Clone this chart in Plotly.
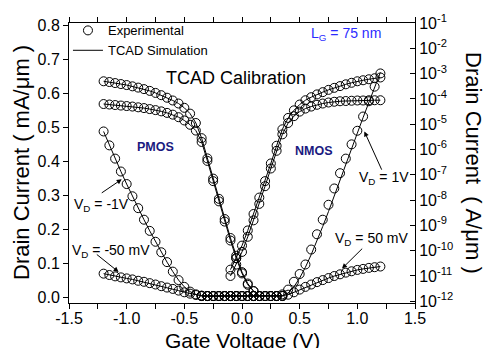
import plotly.graph_objects as go

# ---------------- data ----------------
# gate voltage grids (V)
vg_pmos_lin = [-1.20, -1.15, -1.10, -1.05, -1.00, -0.95, -0.90, -0.85, -0.80, -0.75,
               -0.70, -0.65, -0.60, -0.55, -0.50, -0.45, -0.40, -0.35, -0.30, -0.25,
               -0.20, -0.15, -0.10, -0.05, 0.00, 0.05, 0.10, 0.15, 0.20, 0.25, 0.30, 0.35]
vg_nmos_lin = [-0.35, -0.30, -0.25, -0.20, -0.15, -0.10, -0.05, 0.00, 0.05, 0.10,
               0.15, 0.20, 0.25, 0.30, 0.35, 0.40, 0.45, 0.50, 0.55, 0.60, 0.65, 0.70,
               0.75, 0.80, 0.85, 0.90, 0.95, 1.00, 1.05, 1.10, 1.15, 1.20]
vg_pmos_log = [-1.20, -1.15, -1.10, -1.05, -1.00, -0.95, -0.90, -0.85, -0.80, -0.75,
               -0.70, -0.65, -0.60, -0.55, -0.50, -0.45, -0.40, -0.35, -0.30, -0.25,
               -0.20, -0.15, -0.10, -0.05, 0.00, 0.05, 0.10]
vg_nmos_log = [-0.10, -0.05, 0.00, 0.05, 0.10, 0.15, 0.20, 0.25, 0.30, 0.35, 0.40,
               0.45, 0.50, 0.55, 0.60, 0.65, 0.70, 0.75, 0.80, 0.85, 0.90, 0.95,
               1.00, 1.05, 1.10, 1.15, 1.20]

# linear-scale drain current (mA/um)
pmos_lin_vd1 = [0.488, 0.447, 0.408, 0.370, 0.333, 0.297, 0.262, 0.228, 0.195, 0.163,
                0.132, 0.103, 0.075, 0.050, 0.030, 0.016, 0.008, 0.004, 0.003, 0.003,
                0.003, 0.003, 0.003, 0.003, 0.003, 0.003, 0.003, 0.003, 0.003, 0.003,
                0.003, 0.003]
pmos_lin_vd50 = [0.069, 0.065, 0.061, 0.058, 0.055, 0.052, 0.048, 0.045, 0.041, 0.037,
                 0.032, 0.028, 0.024, 0.019, 0.014, 0.010, 0.006, 0.004, 0.003, 0.003,
                 0.003, 0.003, 0.003, 0.003, 0.003, 0.003, 0.003, 0.003, 0.003, 0.003,
                 0.003, 0.003]
nmos_lin_vd50 = [0.003, 0.003, 0.003, 0.003, 0.003, 0.003, 0.003, 0.003, 0.003, 0.003,
                 0.003, 0.003, 0.003, 0.003, 0.004, 0.007, 0.014, 0.022, 0.030, 0.037,
                 0.044, 0.050, 0.056, 0.062, 0.067, 0.072, 0.076, 0.080, 0.083, 0.086,
                 0.088, 0.090]
nmos_lin_vd1 = [0.003, 0.003, 0.003, 0.003, 0.003, 0.003, 0.003, 0.003, 0.003, 0.003,
                0.003, 0.003, 0.003, 0.003, 0.008, 0.022, 0.045, 0.068, 0.096, 0.140,
                0.185, 0.228, 0.272, 0.320, 0.365, 0.408, 0.450, 0.490, 0.532, 0.577,
                0.620, 0.659]
nmos_lin_vd1_sim = [0.003, 0.003, 0.003, 0.003, 0.003, 0.003, 0.003, 0.003, 0.003, 0.003,
                    0.003, 0.003, 0.003, 0.003, 0.004, 0.012, 0.030, 0.056, 0.088, 0.125,
                    0.165, 0.208, 0.252, 0.297, 0.343, 0.390, 0.437, 0.483, 0.529, 0.574,
                    0.618, 0.662]

# log-scale drain current, log10(A/um)
pmos_log_vd1 = [-3.30, -3.33, -3.37, -3.41, -3.45, -3.50, -3.55, -3.61, -3.68, -3.76,
                -3.85, -3.95, -4.06, -4.18, -4.35, -4.58, -4.95, -5.55, -6.35, -7.15,
                -7.95, -8.75, -9.50, -10.20, -10.85, -11.30, -11.60]
pmos_log_vd50 = [-4.20, -4.22, -4.24, -4.26, -4.28, -4.30, -4.33, -4.36, -4.40, -4.44,
                 -4.49, -4.55, -4.62, -4.72, -4.85, -5.02, -5.25, -5.70, -6.45, -7.25,
                 -8.05, -8.85, -9.60, -10.30, -10.90, -11.35, -11.60]
nmos_log_vd1 = [-10.75, -10.30, -9.80, -9.20, -8.55, -7.90, -7.25, -6.55, -5.85, -5.20,
                -4.75, -4.45, -4.22, -4.05, -3.93, -3.82, -3.73, -3.64, -3.56, -3.49,
                -3.42, -3.36, -3.30, -3.26, -3.22, -3.18, -3.15]
nmos_log_vd50 = [-11.00, -10.55, -10.05, -9.45, -8.80, -8.15, -7.45, -6.75, -6.05, -5.40,
                 -4.95, -4.68, -4.50, -4.38, -4.30, -4.23, -4.18, -4.14, -4.11, -4.09,
                 -4.08, -4.07, -4.06, -4.06, -4.05, -4.05, -4.05]

# tick labels
x_ticks = [-1.5, -1.0, -0.5, 0.0, 0.5, 1.0, 1.5]
x_ticktext = ["-1.5", "-1.0", "-0.5", "0.0", "0.5", "1.0", "1.5"]
y_ticks = [0.0, 0.1, 0.2, 0.3, 0.4, 0.5, 0.6, 0.7, 0.8]
y_ticktext = ["0.0", "0.1", "0.2", "0.3", "0.4", "0.5", "0.6", "0.7", "0.8"]
log_exps = [-12, -11, -10, -9, -8, -7, -6, -5, -4, -3, -2, -1]

# ---------------- figure ----------------
FONT = "Liberation Sans, Arial, sans-serif"
fig = go.Figure()

state = {"exp": True, "sim": True}


def add_curve(x, y_exp, y_sim, axis):
    fig.add_trace(go.Scatter(
        x=x, y=y_sim, mode="lines", yaxis=axis,
        line=dict(color="black", width=1),
        name="TCAD Simulation", legendgroup="sim", legendrank=2,
        showlegend=state["sim"], hoverinfo="skip"))
    state["sim"] = False
    fig.add_trace(go.Scatter(
        x=x, y=y_exp, mode="markers", yaxis=axis,
        marker=dict(symbol="circle-open", size=9, color="black",
                    line=dict(width=1, color="black")),
        name="Experimental", legendgroup="exp", legendrank=1,
        showlegend=state["exp"]))
    state["exp"] = False


add_curve(vg_pmos_lin, pmos_lin_vd1, pmos_lin_vd1, "y")
add_curve(vg_pmos_lin, pmos_lin_vd50, pmos_lin_vd50, "y")
add_curve(vg_nmos_lin, nmos_lin_vd50, nmos_lin_vd50, "y")
add_curve(vg_nmos_lin, nmos_lin_vd1, nmos_lin_vd1_sim, "y")

for vg, ex in [(vg_pmos_log, pmos_log_vd1), (vg_pmos_log, pmos_log_vd50),
               (vg_nmos_log, nmos_log_vd1), (vg_nmos_log, nmos_log_vd50)]:
    cur = [10 ** e for e in ex]
    add_curve(vg, cur, cur, "y2")

annotations = []


def txt(x, y, text, size, color="black", bold=False, xanchor="left"):
    annotations.append(dict(
        x=x, y=y, xref="x", yref="y", text=("<b>%s</b>" % text) if bold else text,
        showarrow=False, xanchor=xanchor, yanchor="middle",
        font=dict(family=FONT, size=size, color=color)))


def arrow(xh, yh, xt, yt):
    annotations.append(dict(
        x=xh, y=yh, ax=xt, ay=yt, xref="x", yref="y", axref="x", ayref="y",
        text="", showarrow=True, arrowhead=2, arrowsize=1.0, arrowwidth=1,
        arrowcolor="black"))


txt(-0.68, 0.645, "TCAD Calibration", 18)
txt(0.584, 0.775, "L<sub>G</sub> = 75 nm", 14, color="#2b2bff")
txt(-0.925, 0.441, "PMOS", 12.5, color="#1a1a80", bold=True)
txt(0.445, 0.430, "NMOS", 12.5, color="#1a1a80", bold=True)
txt(-1.474, 0.272, "V<sub>D</sub> = -1V", 14)
txt(-1.489, 0.137, "V<sub>D</sub> = -50 mV", 14)
txt(1.00, 0.350, "V<sub>D</sub> = 1V", 14)
txt(0.792, 0.171, "V<sub>D</sub> = 50 mV", 14)
arrow(-1.043, 0.347, -1.229, 0.304)
arrow(-1.070, 0.074, -1.272, 0.129)
arrow(1.061, 0.488, 1.217, 0.371)
arrow(0.867, 0.084, 1.055, 0.147)

# axis titles
annotations.append(dict(x=0.5, y=0, xref="paper", yref="paper", yshift=-37,
                        text="Gate Voltage (V)", showarrow=False,
                        xanchor="center", yanchor="middle",
                        font=dict(family=FONT, size=21, color="black")))
annotations.append(dict(x=0, y=0.5, xref="paper", yref="paper", xshift=-48,
                        text="Drain Current ( mA/\u03bcm )", showarrow=False,
                        textangle=-90, xanchor="center", yanchor="middle",
                        font=dict(family=FONT, size=22, color="black")))
annotations.append(dict(x=1, y=0.5, xref="paper", yref="paper", xshift=59,
                        text="Drain Current  ( A/\u03bcm )", showarrow=False,
                        textangle=90, xanchor="center", yanchor="middle",
                        font=dict(family=FONT, size=22, color="black")))

axis_common = dict(showline=True, linecolor="black", linewidth=1, showgrid=False,
                   zeroline=False, tickcolor="black", ticklen=5, tickwidth=1,
                   tickfont=dict(family=FONT, size=16, color="black"))

fig.update_layout(
    width=485, height=348,
    margin=dict(l=69, r=70, t=21, b=45),
    paper_bgcolor="white", plot_bgcolor="white",
    font=dict(family=FONT, color="black"),
    showlegend=True,
    legend=dict(x=-0.003, y=1.027, xanchor="left", yanchor="top",
                bgcolor="rgba(0,0,0,0)", borderwidth=0,
                font=dict(family=FONT, size=13, color="black"),
                tracegroupgap=0, itemwidth=30),
    xaxis=dict(range=[-1.5, 1.5], tickvals=x_ticks, ticktext=x_ticktext,
               ticks="outside", mirror="ticks", ticklabelstandoff=-4,
               minor=dict(dtick=0.25, tick0=-1.5, ticks="outside", ticklen=5,
                          tickcolor="black"),
               **axis_common),
    yaxis=dict(range=[-0.0175, 0.8076], tickvals=y_ticks, ticktext=y_ticktext,
               ticks="outside", **axis_common),
    yaxis2=dict(type="log", overlaying="y", side="right",
                range=[-12.07, -0.995],
                tickvals=[10 ** e for e in log_exps],
                ticktext=["10<sup>%d</sup>" % e for e in log_exps],
                ticks="inside", **axis_common),
    annotations=annotations,
)

fig.write_html("out.html")
